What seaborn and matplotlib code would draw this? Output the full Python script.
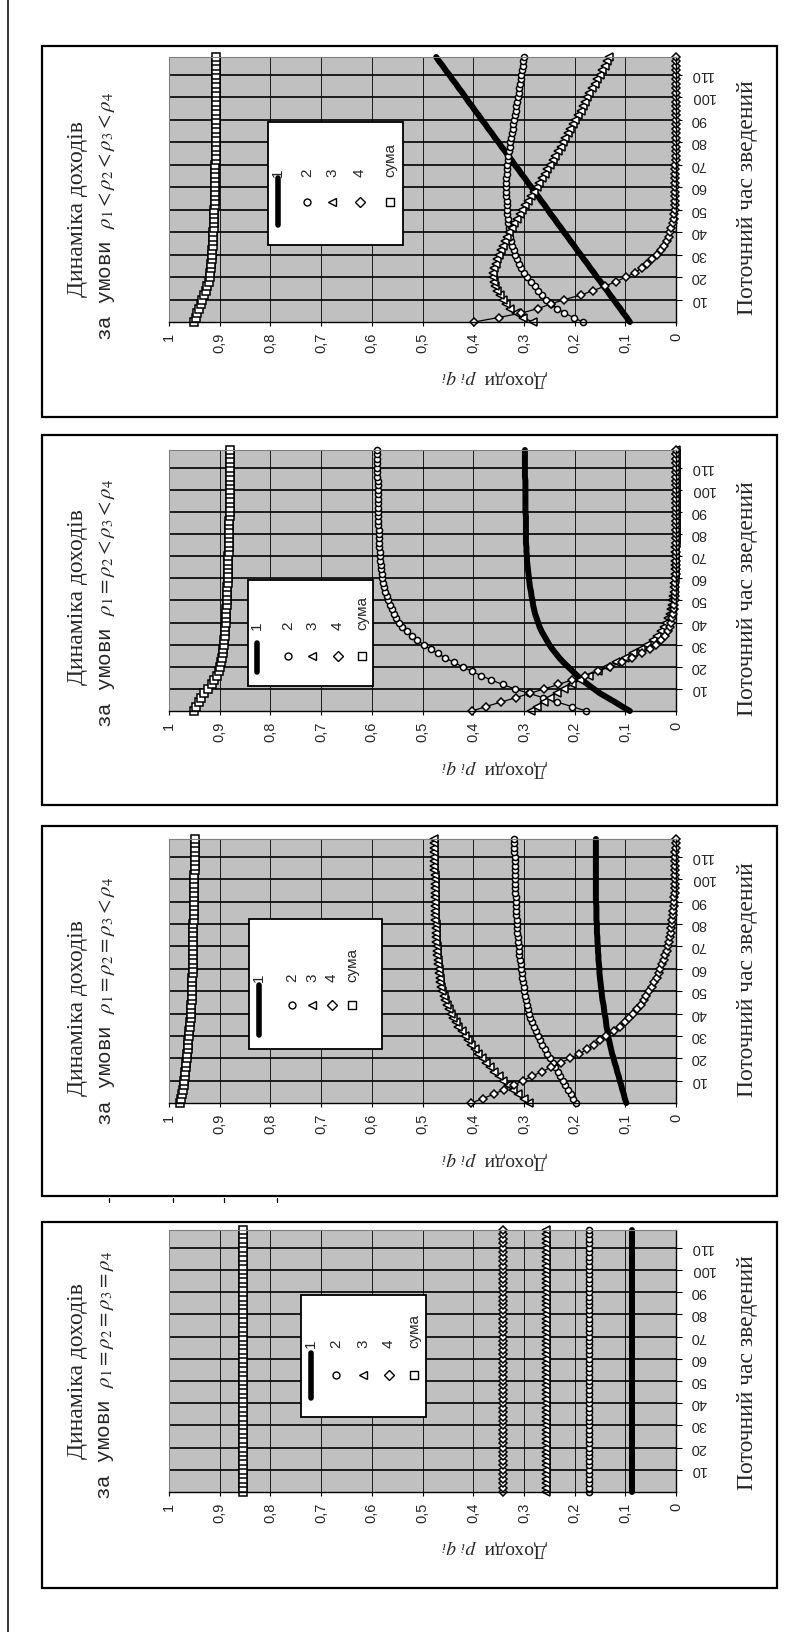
import matplotlib
matplotlib.use('Agg')
import matplotlib.pyplot as plt
import seaborn as sns
from matplotlib.patches import Rectangle
from matplotlib.lines import Line2D

sns.set_theme(style='white')
plt.rcParams['font.family'] = ['Liberation Sans', 'DejaVu Sans']
plt.rcParams['mathtext.fontset'] = 'stix'

W, H = 799, 1632

# моменти часу (зчитано через 2 одиниці)
T = list(range(0, 119, 2))

# ---- дані ----
# ρ1<ρ2<ρ3<ρ4
A_1 = [.091, .097, .104, .110, .117, .123, .130, .136, .143, .149,
       .156, .162, .169, .175, .182, .188, .195, .201, .208, .214,
       .221, .227, .234, .240, .247, .253, .259, .266, .272, .279,
       .285, .292, .298, .305, .311, .318, .324, .331, .337, .344,
       .350, .357, .363, .370, .376, .383, .389, .396, .402, .409,
       .415, .421, .428, .434, .441, .447, .454, .460, .467, .473]
A_2 = [.184, .202, .220, .234, .246, .256, .264, .272, .279, .286,
       .293, .300, .305, .310, .314, .317, .320, .323, .325, .327,
       .329, .330, .331, .332, .333, .333, .334, .334, .335, .335,
       .335, .335, .335, .334, .334, .333, .332, .331, .330, .328,
       .327, .325, .324, .322, .321, .319, .318, .316, .315, .313,
       .312, .310, .309, .307, .306, .305, .304, .302, .301, .300]
A_3 = [.283, .301, .316, .327, .335, .342, .348, .353, .357, .359,
       .360, .360, .358, .356, .353, .350, .346, .342, .338, .333,
       .329, .324, .319, .314, .308, .303, .297, .292, .286, .281,
       .275, .270, .265, .259, .254, .248, .243, .238, .232, .227,
       .222, .218, .214, .209, .204, .199, .193, .188, .184, .179,
       .175, .171, .166, .160, .155, .150, .145, .141, .136, .132]
A_4 = [.398, .350, .305, .272, .247, .220, .188, .163, .140, .118,
       .099, .081, .068, .057, .047, .038, .030, .024, .018, .014,
       .011, .009, .006, .004, .003, .002, .002, .001, .001, .001,
       .001, .001, .001, .001, .001, .001, .000, .000, .000, .000,
       .000, .000, .000, .000, .000, .000, .000, .000, .000, .000,
       .000, .000, .000, .000, .000, .000, .000, .000, .000, .000]
A_S = [.950, .947, .944, .940, .937, .934, .931, .928, .925, .922,
       .920, .919, .918, .917, .916, .915, .915, .914, .914, .913,
       .913, .912, .912, .911, .911, .911, .910, .910, .910, .909,
       .909, .909, .909, .909, .909, .909, .908, .908, .908, .908,
       .908, .908, .908, .908, .908, .908, .908, .908, .908, .908,
       .908, .908, .908, .908, .908, .908, .908, .908, .908, .908]

# ρ1=ρ2<ρ3<ρ4
B_1 = [.091, .106, .120, .135, .150, .162, .174, .185, .195, .204,
       .213, .222, .230, .237, .244, .250, .255, .260, .265, .269,
       .272, .275, .278, .280, .282, .283, .285, .286, .288, .289,
       .290, .291, .292, .293, .294, .294, .295, .295, .296, .296,
       .296, .296, .296, .296, .296, .297, .297, .297, .297, .297,
       .297, .297, .297, .298, .298, .298, .298, .298, .298, .298]
B_2 = [.177, .205, .234, .262, .290, .318, .342, .364, .385, .403,
       .421, .438, .455, .470, .484, .498, .510, .521, .531, .540,
       .547, .552, .557, .561, .565, .568, .571, .573, .575, .577,
       .579, .580, .581, .582, .583, .584, .584, .585, .585, .586,
       .586, .586, .587, .587, .587, .587, .587, .588, .588, .588,
       .588, .588, .588, .589, .589, .589, .589, .589, .589, .589]
B_3 = [.286, .274, .261, .248, .235, .220, .205, .189, .172, .154,
       .136, .118, .100, .084, .070, .057, .046, .037, .029, .023,
       .019, .015, .012, .010, .008, .007, .005, .004, .003, .003,
       .002, .002, .001, .001, .001, .001, .001, .001, .000, .000,
       .000, .000, .000, .000, .000, .000, .000, .000, .000, .000,
       .000, .000, .000, .000, .000, .000, .000, .000, .000, .000]
B_4 = [.402, .375, .346, .316, .288, .260, .232, .206, .180, .154,
       .130, .107, .086, .068, .052, .040, .030, .022, .016, .012,
       .009, .007, .005, .004, .003, .002, .002, .001, .001, .001,
       .001, .000, .000, .000, .000, .000, .000, .000, .000, .000,
       .000, .000, .000, .000, .000, .000, .000, .000, .000, .000,
       .000, .000, .000, .000, .000, .000, .000, .000, .000, .000]
B_S = [.951, .946, .941, .936, .930, .923, .916, .911, .906, .902,
       .900, .898, .896, .894, .893, .891, .891, .890, .889, .889,
       .888, .888, .887, .887, .886, .886, .885, .885, .885, .884,
       .884, .884, .883, .883, .883, .883, .882, .882, .882, .882,
       .881, .881, .881, .881, .880, .880, .880, .880, .880, .880,
       .880, .880, .880, .880, .879, .879, .879, .879, .879, .879]

# ρ1=ρ2=ρ3<ρ4
C_1 = [.098, .101, .103, .106, .108, .111, .113, .116, .118, .121,
       .123, .126, .128, .130, .132, .134, .135, .137, .138, .139,
       .141, .142, .143, .145, .146, .147, .148, .149, .150, .151,
       .151, .152, .153, .153, .154, .154, .155, .155, .156, .156,
       .156, .157, .157, .157, .157, .158, .158, .158, .158, .158,
       .158, .158, .158, .158, .158, .158, .158, .158, .158, .158]
C_2 = [.198, .203, .208, .213, .218, .223, .228, .233, .238, .243,
       .249, .254, .259, .264, .268, .273, .277, .281, .284, .287,
       .289, .291, .293, .295, .297, .299, .300, .301, .303, .304,
       .305, .306, .308, .309, .310, .310, .311, .312, .313, .313,
       .314, .314, .315, .315, .316, .316, .316, .317, .317, .317,
       .317, .318, .318, .318, .318, .318, .319, .319, .319, .319]
C_3 = [.289, .300, .311, .321, .331, .341, .350, .359, .367, .375,
       .383, .390, .397, .404, .411, .417, .423, .429, .434, .439,
       .444, .448, .452, .455, .458, .461, .463, .465, .466, .467,
       .468, .469, .470, .471, .472, .472, .473, .473, .474, .474,
       .474, .475, .475, .475, .475, .475, .476, .476, .476, .476,
       .476, .476, .477, .477, .477, .477, .477, .478, .478, .478]
C_4 = [.404, .381, .359, .339, .320, .302, .284, .265, .246, .227,
       .209, .191, .175, .162, .150, .138, .122, .110, .101, .092,
       .084, .077, .070, .064, .059, .054, .048, .043, .038, .034,
       .031, .027, .024, .021, .018, .016, .014, .012, .010, .009,
       .008, .007, .006, .005, .004, .003, .003, .002, .002, .002,
       .001, .001, .001, .001, .001, .001, .001, .000, .000, .000]
C_S = [.978, .977, .975, .973, .971, .970, .969, .968, .967, .966,
       .965, .964, .963, .962, .962, .961, .960, .959, .958, .957,
       .957, .956, .956, .955, .955, .954, .954, .954, .954, .953,
       .953, .953, .953, .953, .953, .952, .952, .952, .952, .952,
       .952, .951, .951, .951, .951, .951, .951, .951, .950, .950,
       .950, .950, .949, .949, .949, .949, .949, .949, .949, .949]

# ρ1=ρ2=ρ3=ρ4 : рівні сталі
D_1 = [.086] * len(T)
D_2 = [.171] * len(T)
D_3 = [.256] * len(T)
D_4 = [.342] * len(T)
D_S = [.855] * len(T)

SERIES = ['1', '2', '3', '4', 'сума']
VAL_TICKS = [0, .1, .2, .3, .4, .5, .6, .7, .8, .9, 1]
VAL_LABELS = ['0', '0,1', '0,2', '0,3', '0,4', '0,5', '0,6', '0,7', '0,8', '0,9', '1']
TIME_TICKS = [10, 20, 30, 40, 50, 60, 70, 80, 90, 100, 110]

# стилі серій
STYLE = {
    '1': dict(color='black', linewidth=4.3, marker=None),
    '2': dict(color='black', linewidth=0.9, marker='o', markersize=4.4),
    '3': dict(color='black', linewidth=0.9, marker='<', markersize=5.2),
    '4': dict(color='black', linewidth=0.9, marker='D', markersize=4.2),
    'сума': dict(color='black', linewidth=0.9, marker='s', markersize=5.4),
}

PANELS = [
    dict(data=[A_1, A_2, A_3, A_4, A_S],
         cond=r'за умови $\rho_1{<}\rho_2{<}\rho_3{<}\rho_4$',
         frame=(42, 46, 777, 417), plot=(57, 322), tc=(209, 216), xl=198,
         leg=(268, 122, 403, 245), lx=[278, 307, 332, 360, 390], my=202, ly=177, bar=(178, 225)),
    dict(data=[B_1, B_2, B_3, B_4, B_S],
         cond=r'за умови $\rho_1 = \rho_2 < \rho_3 < \rho_4$',
         frame=(42, 435, 777, 805), plot=(450, 711), tc=(597, 603), xl=599,
         leg=(248, 580, 373, 686), lx=[257, 288, 312, 338, 362], my=656, ly=630, bar=(643, 672)),
    dict(data=[C_1, C_2, C_3, C_4, C_S],
         cond=r'за умови $\rho_1 = \rho_2 = \rho_3{<}\rho_4$',
         frame=(42, 826, 777, 1196), plot=(839, 1103), tc=(1008, 1001), xl=980,
         leg=(249, 919, 382, 1049), lx=[259, 292, 312, 332, 352], my=1005, ly=982, bar=(985, 1035)),
    dict(data=[D_1, D_2, D_3, D_4, D_S],
         cond=r'за умови $\rho_1 = \rho_2 = \rho_3 = \rho_4$',
         frame=(42, 1222, 777, 1588), plot=(1230, 1492), tc=(1371, 1375), xl=1373,
         leg=(301, 1295, 426, 1417), lx=[311, 336, 363, 389, 414], my=1375, ly=1348, bar=(1353, 1398)),
]

PX0, PX1 = 169, 676  # межі області побудови по горизонталі


def fx(x):
    return x / W


def fy(y):
    return 1 - y / H


fig = plt.figure(figsize=(W / 100, H / 100), dpi=100)
fig.patch.set_facecolor('white')

# довга вертикальна лінія зліва
fig.add_artist(Line2D([fx(8), fx(8)], [0, 1], transform=fig.transFigure, color='black', lw=1.1))

# дрібні риски між третьою та четвертою рамками
for x in [109, 173, 224, 277]:
    fig.add_artist(Line2D([fx(x), fx(x)], [fy(1198), fy(1202)], transform=fig.transFigure,
                          color='black', lw=0.9))

for p in PANELS:
    fx0, fy0, fx1, fy1 = p['frame']
    fig.add_artist(Rectangle((fx(fx0), fy(fy1)), (fx1 - fx0) / W, (fy1 - fy0) / H,
                             transform=fig.transFigure, fill=False, ec='black', lw=1.6))

    top, bot = p['plot']
    ax = fig.add_axes([fx(PX0), fy(bot), (PX1 - PX0) / W, (bot - top) / H])
    ax.set_facecolor('#c0c0c0')

    for name, vals in zip(SERIES, p['data']):
        st = STYLE[name]
        kw = dict(color=st['color'], linewidth=st['linewidth'])
        if st['marker']:
            kw.update(marker=st['marker'], markersize=st['markersize'],
                      markerfacecolor='white', markeredgecolor='black', markeredgewidth=1.1)
        sns.lineplot(x=vals, y=T, sort=False, estimator=None, ax=ax, clip_on=False, **kw)

    ax.set_xlim(1, 0)
    ax.set_ylim(0, 118)
    ax.set_xticks(VAL_TICKS)
    ax.set_xticklabels(VAL_LABELS)
    ax.set_yticks(TIME_TICKS)
    ax.set_yticklabels([str(t) for t in TIME_TICKS])
    ax.yaxis.tick_right()
    ax.set_xlabel('')
    ax.set_ylabel('')
    ax.grid(False)
    ax.set_axisbelow(True)
    for v in VAL_TICKS[1:-1]:
        ax.axvline(v, color='black', lw=0.6, zorder=0.5)
    for t in TIME_TICKS:
        ax.axhline(t, color='black', lw=1.2, zorder=0.5)
    ax.tick_params(axis='x', direction='out', length=3, width=0.8, color='black', pad=5,
                   labelsize=10.5, labelrotation=90, bottom=True)
    ax.tick_params(axis='y', direction='out', length=4, width=0.8, color='black', pad=6,
                   labelsize=10.5, labelrotation=180, right=True, left=False)
    for lab in ax.get_yticklabels():
        lab.set_verticalalignment('center')
    for side in ['bottom', 'right']:
        ax.spines[side].set_color('black')
        ax.spines[side].set_linewidth(1.0)
    for side in ['top', 'left']:
        ax.spines[side].set_color('#808080')
        ax.spines[side].set_linewidth(0.8)

    # заголовок
    c1, c2 = p['tc']
    fig.text(fx(77), fy(c1), 'Динаміка доходів', rotation=90, ha='center', va='center',
             fontsize=17, family=['Liberation Serif', 'DejaVu Serif'])
    fig.text(fx(107), fy(c2), p['cond'], rotation=90, ha='center', va='center',
             fontsize=15, family=['Liberation Mono', 'DejaVu Sans Mono'])

    # підписи осей
    fig.text(fx(747), fy(p['xl']), 'Поточний час зведений', rotation=90, ha='center', va='center',
             fontsize=17, family=['Liberation Serif', 'DejaVu Serif'])
    fig.text(fx(494), fy(bot + 57), r'Доходи  $p_i\ q_i$', rotation=180, ha='center', va='center',
             fontsize=14, family=['Liberation Serif', 'DejaVu Serif'])

    # легенда
    lx0, ly0, lx1, ly1 = p['leg']
    fig.add_artist(Rectangle((fx(lx0), fy(ly1)), (lx1 - lx0) / W, (ly1 - ly0) / H,
                             transform=fig.transFigure, fc='white', ec='black', lw=1.3, zorder=5))
    for name, x in zip(SERIES, p['lx']):
        st = STYLE[name]
        if st['marker'] is None:
            b0, b1 = p['bar']
            fig.add_artist(Line2D([fx(x), fx(x)], [fy(b0), fy(b1)], transform=fig.transFigure,
                                  color='black', lw=4.0, zorder=6))
        else:
            fig.add_artist(Line2D([fx(x)], [fy(p['my'])], transform=fig.transFigure,
                                  marker=st['marker'], markersize=st['markersize'] + 0.6,
                                  markerfacecolor='white', markeredgecolor='black',
                                  markeredgewidth=1.0, linestyle='none', zorder=6))
        fig.text(fx(x), fy(p['ly']), name, rotation=90, ha='center', va='bottom',
                 fontsize=11, zorder=7)

fig.savefig('out.png', dpi=100, facecolor='white')
